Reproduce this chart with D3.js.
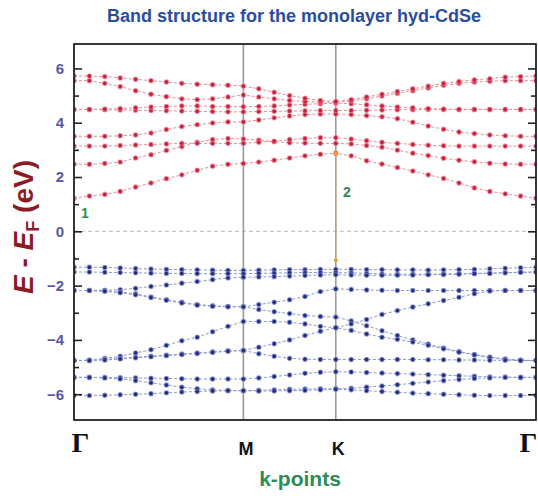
<!DOCTYPE html>
<html>
<head>
<meta charset="utf-8">
<script src="https://cdn.jsdelivr.net/npm/d3@7"></script>
<style>
  body { margin: 0; background: #fff; }
  svg { display: block; }
</style>
</head>
<body>
<svg id="chart" width="538" height="496"></svg>
<script>
// High-symmetry path Γ–M–K–Γ sampled at 31 k-points
const kTickIndex = [0, 11, 17, 30];
const kTickLabels = ["Γ", "M", "K", "Γ"];
const yTickValues = [-6, -4, -2, 0, 2, 4, 6];
const yMinorValues = [-5, -3, -1, 1, 3, 5];

// Conduction bands (eV relative to E_F)
const cb1 = [1.22,1.30,1.36,1.47,1.63,1.78,1.94,2.08,2.25,2.40,2.47,2.50, 2.55,2.62,2.70,2.78,2.84,2.88, 2.78,2.60,2.48,2.35,2.22,2.08,1.95,1.78,1.60,1.47,1.38,1.30,1.22];
const cb2 = [2.47,2.47,2.50,2.55,2.70,2.82,2.98,3.12,3.28,3.38,3.42,3.40, 3.36,3.30,3.26,3.25,3.24,3.24, 3.22,3.16,3.10,2.99,2.88,2.79,2.69,2.62,2.56,2.51,2.48,2.47,2.47];
const cb3 = [3.14,3.14,3.14,3.16,3.18,3.20,3.22,3.24,3.24,3.24,3.24,3.24, 3.28,3.32,3.38,3.42,3.45,3.45, 3.40,3.34,3.28,3.24,3.20,3.17,3.15,3.14,3.14,3.14,3.14,3.14,3.14];
const cb4 = [3.50,3.50,3.50,3.52,3.55,3.62,3.75,3.86,3.93,3.99,4.03,4.03, 4.10,4.18,4.25,4.30,4.32,4.32, 4.30,4.26,4.22,4.15,4.02,3.88,3.76,3.66,3.60,3.55,3.52,3.50,3.50];
const cb5 = [4.49,4.49,4.48,4.47,4.46,4.45,4.44,4.43,4.42,4.41,4.40,4.40, 4.41,4.42,4.43,4.44,4.45,4.45, 4.45,4.46,4.47,4.48,4.48,4.49,4.49,4.49,4.49,4.49,4.49,4.49,4.49];
const cb6 = [4.49,4.49,4.50,4.52,4.55,4.58,4.60,4.62,4.62,4.60,4.60,4.59, 4.60,4.62,4.65,4.68,4.70,4.72, 4.70,4.66,4.62,4.58,4.55,4.52,4.50,4.49,4.49,4.49,4.49,4.49,4.49];
const cb7 = [5.55,5.55,5.45,5.33,5.18,5.05,4.96,4.88,4.85,4.88,4.95,5.02, 4.95,4.88,4.82,4.78,4.76,4.75, 4.80,4.88,4.98,5.08,5.18,5.28,5.38,5.45,5.50,5.53,5.55,5.55,5.55];
const cb8 = [5.72,5.72,5.70,5.65,5.60,5.55,5.50,5.45,5.42,5.40,5.38,5.35, 5.25,5.12,5.00,4.90,4.82,4.78, 4.85,4.95,5.05,5.15,5.25,5.35,5.45,5.52,5.58,5.62,5.68,5.70,5.72];

// Valence bands
const vb1  = [-1.32,-1.32,-1.33,-1.35,-1.37,-1.39,-1.40,-1.41,-1.42,-1.43,-1.44,-1.44, -1.43,-1.42,-1.41,-1.41,-1.40,-1.40, -1.40,-1.41,-1.41,-1.42,-1.42,-1.43,-1.42,-1.41,-1.40,-1.38,-1.36,-1.34,-1.32];
const vb2  = [-1.50,-1.50,-1.51,-1.52,-1.53,-1.54,-1.55,-1.55,-1.56,-1.56,-1.56,-1.56, -1.55,-1.54,-1.53,-1.52,-1.52,-1.52, -1.53,-1.55,-1.57,-1.58,-1.58,-1.58,-1.57,-1.56,-1.55,-1.54,-1.52,-1.51,-1.50];
const vb3  = [-2.18,-2.18,-2.17,-2.15,-2.10,-2.03,-1.98,-1.91,-1.85,-1.78,-1.72,-1.69, -1.68,-1.67,-1.65,-1.63,-1.61,-1.60, -1.61,-1.62,-1.62,-1.62,-1.61,-1.60,-1.59,-1.58,-1.56,-1.55,-1.53,-1.51,-1.50];
const vb4  = [-2.18,-2.18,-2.20,-2.24,-2.30,-2.42,-2.52,-2.61,-2.70,-2.74,-2.77,-2.78, -2.70,-2.61,-2.52,-2.40,-2.22,-2.12, -2.14,-2.16,-2.17,-2.18,-2.18,-2.18,-2.18,-2.18,-2.18,-2.18,-2.18,-2.18,-2.18];
const vb5  = [-2.18,-2.18,-2.21,-2.26,-2.34,-2.44,-2.54,-2.64,-2.72,-2.76,-2.78,-2.78, -2.88,-2.96,-3.03,-3.10,-3.14,-3.16, -3.30,-3.48,-3.66,-3.84,-4.00,-4.15,-4.30,-4.43,-4.54,-4.63,-4.70,-4.74,-4.76];
const vb6  = [-4.76,-4.74,-4.68,-4.60,-4.48,-4.36,-4.20,-4.03,-3.90,-3.70,-3.50,-3.32, -3.32,-3.32,-3.35,-3.41,-3.50,-3.55, -3.65,-3.78,-3.90,-3.98,-4.08,-4.20,-4.33,-4.45,-4.55,-4.66,-4.72,-4.76,-4.76];
const vb7  = [-4.76,-4.76,-4.72,-4.68,-4.64,-4.60,-4.56,-4.52,-4.48,-4.44,-4.40,-4.39, -4.27,-4.14,-4.00,-3.84,-3.68,-3.55, -3.41,-3.25,-3.06,-2.92,-2.79,-2.67,-2.55,-2.43,-2.30,-2.20,-2.18,-2.18,-2.18];
const vb8  = [-4.76,-4.76,-4.74,-4.70,-4.66,-4.62,-4.58,-4.54,-4.50,-4.46,-4.42,-4.39, -4.51,-4.60,-4.68,-4.71,-4.72,-4.72, -4.72,-4.72,-4.72,-4.72,-4.72,-4.73,-4.73,-4.74,-4.74,-4.75,-4.75,-4.76,-4.76];
const vb9  = [-5.38,-5.38,-5.38,-5.39,-5.40,-5.41,-5.42,-5.43,-5.44,-5.44,-5.44,-5.44, -5.40,-5.35,-5.29,-5.23,-5.19,-5.17, -5.18,-5.20,-5.22,-5.24,-5.26,-5.28,-5.30,-5.32,-5.34,-5.36,-5.37,-5.38,-5.38];
const vb10 = [-5.38,-5.38,-5.40,-5.44,-5.50,-5.58,-5.66,-5.74,-5.80,-5.84,-5.86,-5.87, -5.86,-5.84,-5.82,-5.81,-5.80,-5.80, -5.78,-5.74,-5.70,-5.65,-5.60,-5.55,-5.50,-5.46,-5.42,-5.40,-5.38,-5.38,-5.38];
const vb11 = [-6.05,-6.05,-6.04,-6.02,-6.00,-5.98,-5.95,-5.92,-5.90,-5.88,-5.87,-5.87, -5.88,-5.88,-5.87,-5.86,-5.84,-5.82, -5.84,-5.87,-5.90,-5.93,-5.96,-5.98,-6.00,-6.02,-6.04,-6.05,-6.05,-6.05,-6.05];

const conduction = [cb1, cb2, cb3, cb4, cb5, cb6, cb7, cb8];
const valence = [vb1, vb2, vb3, vb4, vb5, vb6, vb7, vb8, vb9, vb10, vb11];

// Band-gap markers: k index, lower and upper energy, label
const gapK = [0, 17];
const gapLow = [-1.00, -1.07];
const gapHigh = [1.22, 2.88];
const gapLabels = ["1", "2"];

const svg = d3.select("#chart");
const plotL = 74, plotR = 536, plotT = 44, plotB = 420;

const x = d3.scaleLinear().domain([0, 30]).range([plotL, plotR]);
const y = d3.scaleLinear().domain([-6.95, 6.9]).range([plotB, plotT]);

svg.append("defs").append("clipPath").attr("id", "plotClip")
  .append("rect").attr("x", plotL).attr("y", plotT)
  .attr("width", plotR - plotL).attr("height", plotB - plotT);

// Title
svg.append("text")
  .attr("x", 294).attr("y", 22)
  .attr("text-anchor", "middle")
  .attr("font-family", "Liberation Sans, Arial, sans-serif")
  .attr("font-weight", "bold").attr("font-size", 18)
  .attr("fill", "#2b4d9e")
  .text("Band structure for the monolayer hyd-CdSe");

const plot = svg.append("g").attr("clip-path", "url(#plotClip)");

// Fermi level
plot.append("line")
  .attr("x1", plotL).attr("x2", plotR)
  .attr("y1", y(0)).attr("y2", y(0))
  .attr("stroke", "#c8c8c8").attr("stroke-width", 1.2)
  .attr("stroke-dasharray", "4,3");

// High-symmetry verticals
plot.selectAll("line.kline").data(kTickIndex.slice(1, 3)).join("line")
  .attr("class", "kline")
  .attr("x1", d => x(d)).attr("x2", d => x(d))
  .attr("y1", plotT).attr("y2", plotB)
  .attr("stroke", "#9a9a9a").attr("stroke-width", 1.6);

const line = d3.line().x((d, i) => x(i)).y(d => y(d));

function drawBands(bands, lineColor, dotColor, haloColor) {
  const g = plot.append("g");
  g.selectAll("path").data(bands).join("path")
    .attr("d", line)
    .attr("fill", "none")
    .attr("stroke", lineColor).attr("stroke-width", 1)
    .attr("stroke-dasharray", "3,2");
  bands.forEach(b => {
    g.append("g").selectAll("circle").data(b).join("circle")
      .attr("cx", (d, i) => x(i)).attr("cy", d => y(d))
      .attr("r", 2.2)
      .attr("fill", dotColor)
      .attr("stroke", haloColor).attr("stroke-width", 1.2);
  });
}

drawBands(conduction, "#f08a96", "#c4203a", "rgba(240,120,140,0.6)");
drawBands(valence, "#8e98d4", "#1f2b78", "rgba(130,140,210,0.6)");

// Gap markers
gapK.forEach((k, i) => {
  plot.append("line")
    .attr("x1", x(k)).attr("x2", x(k))
    .attr("y1", y(gapLow[i])).attr("y2", y(gapHigh[i]))
    .attr("stroke", "#f2a54a").attr("stroke-width", 1.2)
    .attr("stroke-opacity", 0.55);
  [gapLow[i], gapHigh[i]].forEach(e => {
    plot.append("circle").attr("cx", x(k)).attr("cy", y(e))
      .attr("r", 2).attr("fill", "#f29a30");
  });
  svg.append("text")
    .attr("x", x(k) + 11).attr("y", y((gapLow[i] + gapHigh[i]) / 2) - 10)
    .attr("text-anchor", "middle")
    .attr("font-family", "Liberation Sans, Arial, sans-serif")
    .attr("font-weight", "bold").attr("font-size", 14)
    .attr("fill", "#2e8b57")
    .text(gapLabels[i]);
});

// Frame
svg.append("rect")
  .attr("x", plotL).attr("y", plotT)
  .attr("width", plotR - plotL).attr("height", plotB - plotT)
  .attr("fill", "none").attr("stroke", "#222").attr("stroke-width", 1.8);

// Left axis, ticks pointing inward
const yAxisL = svg.append("g").attr("transform", `translate(${plotL},0)`)
  .call(d3.axisLeft(y).tickValues(yTickValues).tickSizeInner(-8).tickSizeOuter(0).tickPadding(10)
    .tickFormat(d => d === 0 ? "0" : d3.format("d")(d).replace("-", "\u2212")));
yAxisL.select(".domain").remove();
yAxisL.selectAll("line").attr("stroke", "#222").attr("stroke-width", 1.6);
yAxisL.selectAll("text")
  .attr("font-family", "Liberation Sans, Arial, sans-serif")
  .attr("font-weight", "bold").attr("font-size", 15)
  .attr("fill", "#5558a8");

svg.append("g").attr("transform", `translate(${plotL},0)`)
  .call(d3.axisLeft(y).tickValues(yMinorValues).tickSizeInner(-5).tickSizeOuter(0).tickFormat(""))
  .call(g => g.select(".domain").remove())
  .selectAll("line").attr("stroke", "#222").attr("stroke-width", 1.6);

// Right axis, ticks pointing inward
svg.append("g").attr("transform", `translate(${plotR},0)`)
  .call(d3.axisRight(y).tickValues(yTickValues).tickSizeInner(-8).tickSizeOuter(0).tickFormat(""))
  .call(g => g.select(".domain").remove())
  .selectAll("line").attr("stroke", "#222").attr("stroke-width", 1.6);
svg.append("g").attr("transform", `translate(${plotR},0)`)
  .call(d3.axisRight(y).tickValues(yMinorValues).tickSizeInner(-5).tickSizeOuter(0).tickFormat(""))
  .call(g => g.select(".domain").remove())
  .selectAll("line").attr("stroke", "#222").attr("stroke-width", 1.6);

// Bottom axis with high-symmetry labels
const xAxis = svg.append("g").attr("transform", `translate(0,${plotB})`)
  .call(d3.axisBottom(x).tickValues(kTickIndex).tickSize(0).tickPadding(12)
    .tickFormat((d, i) => kTickLabels[i]));
xAxis.select(".domain").remove();
xAxis.selectAll("text")
  .attr("fill", "#111")
  .attr("font-weight", "bold")
  .attr("font-family", (d, i) => kTickLabels[i] === "Γ" ? "Liberation Serif, Times New Roman, serif" : "Liberation Sans, Arial, sans-serif")
  .attr("font-size", (d, i) => kTickLabels[i] === "Γ" ? 28 : 18)
  .attr("dy", (d, i) => kTickLabels[i] === "Γ" ? "0.7em" : "1.25em")
  .attr("dx", (d, i) => i === 0 ? 6 : (i === 3 ? -8 : 2));

// X axis title
svg.append("text")
  .attr("x", 300).attr("y", 486)
  .attr("text-anchor", "middle")
  .attr("font-family", "Liberation Sans, Arial, sans-serif")
  .attr("font-weight", "bold").attr("font-size", 21)
  .attr("fill", "#2e8b57")
  .text("k-points");

// Y axis title
const yTitle = svg.append("text")
  .attr("transform", "translate(33,227) rotate(-90)")
  .attr("text-anchor", "middle")
  .attr("font-family", "Liberation Sans, Arial, sans-serif")
  .attr("font-weight", "bold").attr("font-size", 28)
  .attr("fill", "#8c1c24");
yTitle.append("tspan").attr("font-style", "italic").text("E");
yTitle.append("tspan").text(" - ");
yTitle.append("tspan").attr("font-style", "italic").text("E");
yTitle.append("tspan").attr("font-size", 18).attr("dy", 6).text("F");
yTitle.append("tspan").attr("dy", -6).text(" (eV)");
</script>
</body>
</html>
